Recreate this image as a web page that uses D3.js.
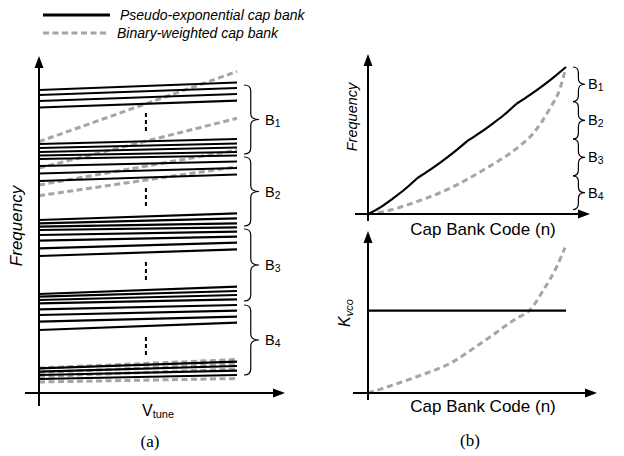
<!DOCTYPE html>
<html>
<head>
<meta charset="utf-8">
<script src="https://cdn.jsdelivr.net/npm/d3@7"></script>
<style>
  body { margin: 0; background: #fff; }
  svg { display: block; font-family: "Liberation Sans", Arial, sans-serif; }
</style>
</head>
<body>
<svg id="fig" width="624" height="456"></svg>
<script>
'use strict';
// ---- data (left panel: frequency at Vtune min / max for each cap code) ----
const bandNames = ["1", "2", "3", "4"];
// pseudo-exponential cap bank, 4 bands x (upper cluster, lower cluster) x 4 lines
const pseStart = [303, 298, 292, 285.5, 249, 245, 241, 237.5,
  234, 227, 219.5, 212, 173, 169.7, 166.3, 163,
  158, 152.3, 144.7, 137, 99, 96.3, 93, 89.7,
  83.7, 78, 71.3, 63, 24.7, 21.3, 18, 14];
const pseEnd = [310.5, 305, 299, 292.3, 254, 249.5, 245.5, 241,
  237.5, 231.5, 225, 218.5, 179.7, 174.7, 169.7, 165.7,
  161.3, 156.3, 150.3, 143.7, 106.3, 102, 98, 93.7,
  88, 82.3, 76.3, 70.3, 31.3, 27, 22.3, 18];
// binary-weighted cap bank
const binStart = [251.3, 225, 208, 197.3, 25, 20.5, 16.5, 11];
const binEnd = [321.5, 274.7, 243, 226.3, 33.5, 29, 24, 14.5];
// "more lines" marks and band braces (frequency units)
const gapMarks = [[280, 261], [205, 186], [131, 113], [56, 38]];
const leftBands = [[308, 239], [236, 167], [164, 92], [88, 18]];

// ---- data (right panels: vs cap bank code) ----
const codes = [0, 6.25, 12.5, 18.75, 25, 31.25, 37.5, 43.75, 50,
  56.25, 62.5, 68.75, 75, 81.25, 87.5, 93.75, 100];
const pseFreq = [0, 4.5, 10.5, 17, 24.5, 30, 36, 42.5, 49.5,
  55, 61, 67.5, 75, 80.5, 86.5, 93, 100];
const binCodes = [0, 7.7, 24.6, 41.4, 58.2, 75.1, 83.5, 91.9, 97, 99.5];
const binFreq = [0, 1.6, 8.4, 17.5, 29.9, 44.7, 54.9, 71.9, 85.5, 97.5];
const rightBands = [[100, 76.5], [76.5, 51], [51, 26], [26, 3]];
const kvcoCodes = [0, 7.7, 24.6, 41.4, 58.2, 75.1, 81.8, 88.6, 95.3, 99.5];
const kvcoBin = [0, 3.2, 11, 20, 34.7, 50.5, 56.1, 69.6, 85.3, 98.2];
const kvcoPse = [55.6, 55.6];
const kvcoPseCodes = [0, 100];

const BLACK = "#000";
const GRAY = "#a5a5a5";
const svg = d3.select("#fig");

function arrowUp(g, x, y) {
  g.append("path").attr("d", `M${x},${y} L${x - 4.5},${y + 12} L${x + 4.5},${y + 12} Z`).attr("fill", BLACK);
}
function arrowRight(g, x, y) {
  g.append("path").attr("d", `M${x},${y} L${x - 12},${y - 4.5} L${x - 12},${y + 4.5} Z`).attr("fill", BLACK);
}
function axes(g, ox, oy, xL, xR, yT, yB) {
  g.append("line").attr("x1", xL).attr("x2", xR - 8).attr("y1", oy).attr("y2", oy)
    .attr("stroke", BLACK).attr("stroke-width", 2);
  g.append("line").attr("x1", ox).attr("x2", ox).attr("y1", yB).attr("y2", yT + 8)
    .attr("stroke", BLACK).attr("stroke-width", 2);
  arrowUp(g, ox, yT);
  arrowRight(g, xR, oy);
}
function brace(g, x0, y0, y1, w) {
  const x1 = x0 + w * 0.45, x2 = x0 + w, ym = (y0 + y1) / 2, r = Math.min(6, (y1 - y0) / 4);
  g.append("path")
    .attr("d", `M${x0},${y0} Q${x1},${y0} ${x1},${y0 + r} L${x1},${ym - r} Q${x1},${ym} ${x2},${ym}` +
      ` Q${x1},${ym} ${x1},${ym + r} L${x1},${y1 - r} Q${x1},${y1} ${x0},${y1}`)
    .attr("fill", "none").attr("stroke", BLACK).attr("stroke-width", 1.2);
}
function bandLabel(g, x, y, sub, size) {
  const t = g.append("text").attr("x", x).attr("y", y).attr("font-size", size);
  t.append("tspan").text("B");
  t.append("tspan").attr("font-size", size * 0.72).attr("dy", 2).text(sub);
}

// ---- legend ----
const leg = svg.append("g");
leg.append("line").attr("x1", 43).attr("x2", 110).attr("y1", 15).attr("y2", 15)
  .attr("stroke", BLACK).attr("stroke-width", 3);
leg.append("text").attr("x", 120).attr("y", 19.5).attr("font-size", 14).attr("font-style", "italic")
  .text("Pseudo-exponential cap bank");
leg.append("line").attr("x1", 43).attr("x2", 108).attr("y1", 33).attr("y2", 33)
  .attr("stroke", GRAY).attr("stroke-width", 3).attr("stroke-dasharray", "6,3.5");
leg.append("text").attr("x", 117).attr("y", 38).attr("font-size", 14).attr("font-style", "italic")
  .text("Binary-weighted cap bank");

// ---- (a) frequency vs Vtune ----
const gA = svg.append("g");
const xA = d3.scaleLinear().domain([0, 1]).range([39, 237]);
const yA = d3.scaleLinear().domain([0, 340]).range([393, 53]);

gA.selectAll("line.bin").data(d3.range(binStart.length)).join("line").attr("class", "bin")
  .attr("x1", xA(0)).attr("x2", xA(1))
  .attr("y1", i => yA(binStart[i])).attr("y2", i => yA(binEnd[i]))
  .attr("stroke", GRAY).attr("stroke-width", 3).attr("stroke-dasharray", "6,3.5");
gA.selectAll("line.pse").data(d3.range(pseStart.length)).join("line").attr("class", "pse")
  .attr("x1", xA(0)).attr("x2", xA(1))
  .attr("y1", i => yA(pseStart[i])).attr("y2", i => yA(pseEnd[i]))
  .attr("stroke", BLACK).attr("stroke-width", 2.2);
gA.selectAll("line.gap").data(gapMarks).join("line").attr("class", "gap")
  .attr("x1", xA(0.54)).attr("x2", xA(0.54))
  .attr("y1", d => yA(d[0])).attr("y2", d => yA(d[1]))
  .attr("stroke", BLACK).attr("stroke-width", 2).attr("stroke-dasharray", "4,3");
axes(gA, 39, 393, 25, 285, 56, 406);
leftBands.forEach((b, i) => {
  brace(gA, 244, yA(b[0]), yA(b[1]), 15);
  bandLabel(gA, 265, (yA(b[0]) + yA(b[1])) / 2 + 5, bandNames[i], 14.5);
});
gA.append("text").attr("transform", "translate(22,226) rotate(-90)").attr("text-anchor", "middle")
  .attr("font-size", 17).attr("font-style", "italic").text("Frequency");
const vt = gA.append("text").attr("x", 142).attr("y", 415.5).attr("font-size", 16);
vt.append("tspan").text("V");
vt.append("tspan").attr("font-size", 11).attr("dy", 2).text("tune");
svg.append("text").attr("x", 150).attr("y", 447).attr("text-anchor", "middle")
  .attr("font-family", "'Liberation Serif', 'Times New Roman', serif").attr("font-size", 17).text("(a)");

// ---- (b) top: frequency vs cap bank code ----
const gB = svg.append("g");
const xB = d3.scaleLinear().domain([0, 100]).range([368, 566]);
const yB = d3.scaleLinear().domain([0, 100]).range([214, 67]);
const binPts = binCodes.map((c, i) => [c, binFreq[i]]);
const pts = codes.map((c, i) => [c, pseFreq[i]]);
const lnB = d3.line().x(d => xB(d[0])).y(d => yB(d[1])).curve(d3.curveMonotoneX);
gB.append("path").attr("d", lnB(binPts)).attr("fill", "none").attr("stroke", GRAY)
  .attr("stroke-width", 3).attr("stroke-dasharray", "6,4");
// each band is its own smooth piece, so the kinks between bands stay
[0, 4, 8, 12].forEach(s => {
  gB.append("path").attr("d", lnB(pts.slice(s, s + 5))).attr("fill", "none")
    .attr("stroke", BLACK).attr("stroke-width", 2.2);
});
axes(gB, 368, 214, 355, 590, 54, 221);
rightBands.forEach((b, i) => {
  brace(gB, 573, yB(b[0]), yB(b[1]), 12);
  bandLabel(gB, 588, (yB(b[0]) + yB(b[1])) / 2 + 5, bandNames[i], 14.5);
});
gB.append("text").attr("transform", "translate(357,117) rotate(-90)").attr("text-anchor", "middle")
  .attr("font-size", 14.5).attr("font-style", "italic").text("Frequency");
gB.append("text").attr("x", 483).attr("y", 235).attr("text-anchor", "middle")
  .attr("font-size", 17).text("Cap Bank Code (n)");

// ---- (b) bottom: Kvco vs cap bank code ----
const gC = svg.append("g");
const yC = d3.scaleLinear().domain([0, 100]).range([393, 245]);
const lnC = d3.line().x(d => xB(d[0])).y(d => yC(d[1])).curve(d3.curveMonotoneX);
gC.append("path").attr("d", lnC(kvcoCodes.map((c, i) => [c, kvcoBin[i]]))).attr("fill", "none")
  .attr("stroke", GRAY).attr("stroke-width", 3).attr("stroke-dasharray", "6,4");
gC.append("path").attr("d", lnC(kvcoPseCodes.map((c, i) => [c, kvcoPse[i]]))).attr("fill", "none")
  .attr("stroke", BLACK).attr("stroke-width", 2.2);
axes(gC, 368, 393, 353, 597, 231, 400);
const kv = gC.append("text").attr("transform", "translate(350,313) rotate(-90)").attr("text-anchor", "middle")
  .attr("font-size", 16).attr("font-style", "italic");
kv.append("tspan").text("K");
kv.append("tspan").attr("font-size", 11).attr("dy", 3).text("vco");
gC.append("text").attr("x", 483).attr("y", 411.5).attr("text-anchor", "middle")
  .attr("font-size", 17).text("Cap Bank Code (n)");
svg.append("text").attr("x", 470).attr("y", 446).attr("text-anchor", "middle")
  .attr("font-family", "'Liberation Serif', 'Times New Roman', serif").attr("font-size", 17).text("(b)");
</script>
</body>
</html>
